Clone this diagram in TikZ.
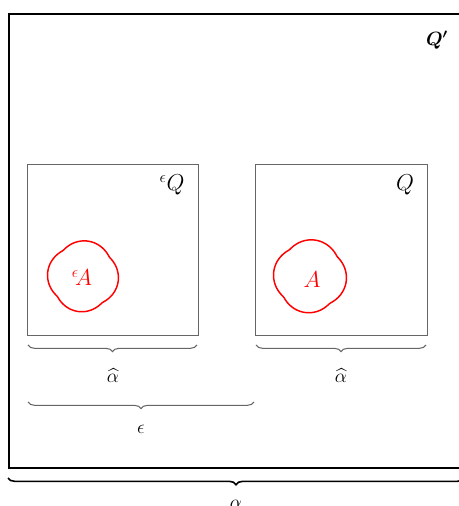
\documentclass[tikz,border=0pt]{standalone}
\usepackage{amsmath,bm}
\usetikzlibrary{decorations.pathreplacing}
\begin{document}
\begin{tikzpicture}[x=0.75pt,y=-0.75pt,
  innerbox/.style={draw=black!60,line width=0.8pt},
  outerbox/.style={draw=black,line width=1.3pt},
  smallbrace/.style={draw=black!60,line width=0.8pt,decorate,decoration={brace,mirror,amplitude=5pt}},
  bigbrace/.style={draw=black,line width=1.2pt,decorate,decoration={brace,mirror,amplitude=5pt}},
  blob/.style={draw=red,line width=1.1pt},
  lbl/.style={inner sep=0pt,font=\LARGE}]
\useasboundingbox (0,0) rectangle (459,506);
% outer box
\node[outerbox,minimum width=456*0.75pt,minimum height=454*0.75pt,inner sep=0pt,anchor=north west] (outer) at (8,13) {};
\node[lbl,font=\Large] (qp) at (437,40) {$\bm{Q'}$};
% inner boxes
\node[innerbox,minimum width=171*0.75pt,minimum height=171*0.75pt,inner sep=0pt,anchor=north west] (lbox) at (27,164) {};
\node[innerbox,minimum width=172*0.75pt,minimum height=171*0.75pt,inner sep=0pt,anchor=north west] (rbox) at (255,164) {};
\node[lbl] (eq) at (172,185) {${}^{\epsilon}Q$};
\node[lbl] (q) at (405,185) {$Q$};
% blobs
\draw[blob] plot[smooth cycle,domain=0:357,samples=120,variable=\t]
  ({83+35*(0.93+0.085*abs(cos(2*(\t-82)))+0.02*sin(\t))*cos(\t)},{277-35*(0.93+0.085*abs(cos(2*(\t-82)))+0.02*sin(\t))*sin(\t)});
\draw[blob] plot[smooth cycle,domain=0:357,samples=120,variable=\t]
  ({310+36*(0.93+0.085*abs(cos(2*(\t-82)))+0.02*sin(\t))*cos(\t)},{277-36*(0.93+0.085*abs(cos(2*(\t-82)))+0.02*sin(\t))*sin(\t)});
\node[lbl,text=red] (ea) at (82,278) {${}^{\epsilon}\!A$};
\node[lbl,text=red] (a) at (312,280) {$A$};
% braces
\coordinate (b1l) at (28,345); \coordinate (b1r) at (197,345);
\coordinate (b2l) at (256,345); \coordinate (b2r) at (426,345);
\coordinate (b3l) at (28,402); \coordinate (b3r) at (254,402);
\coordinate (b4l) at (8,478); \coordinate (b4r) at (464,478);
\draw[smallbrace] (b1l) -- (b1r);
\draw[smallbrace] (b2l) -- (b2r);
\draw[smallbrace] (b3l) -- (b3r);
\draw[bigbrace] (b4l) -- (b4r);
\node[lbl,font=\Large] (ah1) at (113,376) {$\widehat{\alpha}$};
\node[lbl,font=\Large] (ah2) at (341,376) {$\widehat{\alpha}$};
\node[lbl,font=\Large] (eps) at (141,429) {$\epsilon$};
\node[lbl,font=\Large] (al) at (236,504) {$\alpha$};
\end{tikzpicture}
\end{document}
